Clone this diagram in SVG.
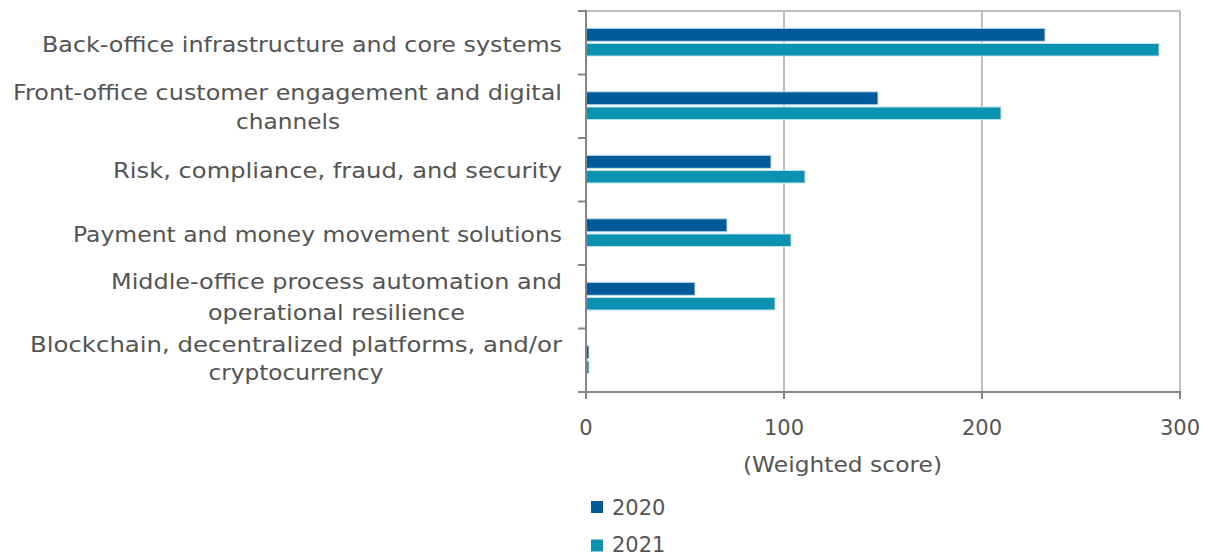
<svg xmlns="http://www.w3.org/2000/svg" width="1206" height="556" viewBox="0 0 1206 556">
<style>
  .lbl { font-family: "DejaVu Sans", Verdana, sans-serif; font-size: 20.5px; fill: #545454; }
  .tick { font-family: "DejaVu Sans", Verdana, sans-serif; font-size: 21px; fill: #545454; text-anchor: middle; }
  .b20 { fill: #005A9A; stroke: #BFE2EF; stroke-width: 1; }
  .b21 { fill: #0A93B1; stroke: #BFE2EF; stroke-width: 1; }
  .grid { stroke: #BEBEBE; stroke-width: 2; fill: none; }
  .axis { stroke: #858585; stroke-width: 2; fill: none; }
</style>
<rect width="1206" height="556" fill="#FFFFFF"/>

<g id="plot-frame">
  <line class="grid" x1="586" y1="11" x2="1180" y2="11"/>
  <line class="grid" x1="1180" y1="11" x2="1180" y2="392"/>
  <line class="grid" x1="784" y1="11" x2="784" y2="392"/>
  <line class="grid" x1="982" y1="11" x2="982" y2="392"/>
</g>

<g id="bars">
  <g id="cat-backoffice">
    <rect class="b20" x="586" y="28.3" width="459" height="13"/>
    <rect class="b21" x="586" y="43.5" width="573" height="12.5"/>
  </g>
  <g id="cat-frontoffice">
    <rect class="b20" x="586" y="91.8" width="292" height="13"/>
    <rect class="b21" x="586" y="107" width="415" height="12.5"/>
  </g>
  <g id="cat-risk">
    <rect class="b20" x="586" y="155.3" width="185" height="13"/>
    <rect class="b21" x="586" y="170.5" width="219" height="12.5"/>
  </g>
  <g id="cat-payment">
    <rect class="b20" x="586" y="218.8" width="141" height="13"/>
    <rect class="b21" x="586" y="234" width="205" height="12.5"/>
  </g>
  <g id="cat-middleoffice">
    <rect class="b20" x="586" y="282.3" width="109" height="13"/>
    <rect class="b21" x="586" y="297.5" width="189" height="12.5"/>
  </g>
  <g id="cat-blockchain">
    <rect class="b20" x="586" y="345.8" width="3" height="13"/>
    <rect class="b21" x="586" y="361" width="3" height="12.5"/>
  </g>
</g>

<g id="axes">
  <line class="axis" x1="586" y1="10" x2="586" y2="393"/>
  <line class="axis" x1="585" y1="392" x2="1181" y2="392"/>
  <path class="axis" d="M578 11H586M578 74.5H586M578 138H586M578 201.5H586M578 265H586M578 328.5H586M578 392H586"/>
  <path class="axis" d="M586 392V399M784 392V399M982 392V399M1180 392V399"/>
</g>

<g id="category-labels">
  <text class="lbl" x="562" y="52" text-anchor="end" textLength="520" lengthAdjust="spacingAndGlyphs">Back-office infrastructure and core systems</text>
  <text class="lbl" x="562" y="100" text-anchor="end" textLength="549" lengthAdjust="spacingAndGlyphs">Front-office customer engagement and digital</text>
  <text class="lbl" x="288" y="128.5" text-anchor="middle" textLength="104" lengthAdjust="spacingAndGlyphs">channels</text>
  <text class="lbl" x="562" y="178" text-anchor="end" textLength="449" lengthAdjust="spacingAndGlyphs">Risk, compliance, fraud, and security</text>
  <text class="lbl" x="562" y="242" text-anchor="end" textLength="489" lengthAdjust="spacingAndGlyphs">Payment and money movement solutions</text>
  <text class="lbl" x="562" y="289" text-anchor="end" textLength="451" lengthAdjust="spacingAndGlyphs">Middle-office process automation and</text>
  <text class="lbl" x="336.5" y="319.5" text-anchor="middle" textLength="257" lengthAdjust="spacingAndGlyphs">operational resilience</text>
  <text class="lbl" x="562" y="352" text-anchor="end" textLength="532" lengthAdjust="spacingAndGlyphs">Blockchain, decentralized platforms, and/or</text>
  <text class="lbl" x="296" y="380" text-anchor="middle" textLength="175" lengthAdjust="spacingAndGlyphs">cryptocurrency</text>
</g>

<g id="x-axis-labels">
  <text class="tick" x="586" y="435">0</text>
  <text class="tick" x="784" y="435">100</text>
  <text class="tick" x="982" y="435">200</text>
  <text class="tick" x="1180" y="435">300</text>
  <text class="tick" x="842.5" y="472" textLength="199" lengthAdjust="spacingAndGlyphs">(Weighted score)</text>
</g>

<g id="legend">
  <rect x="591" y="501" width="12" height="12" fill="#005A9A"/>
  <text class="tick" x="612" y="515" style="text-anchor:start">2020</text>
  <rect x="591" y="539.5" width="12" height="12" fill="#0A93B1"/>
  <text class="tick" x="612" y="552" font-size="20" style="text-anchor:start">2021</text>
</g>
</svg>
